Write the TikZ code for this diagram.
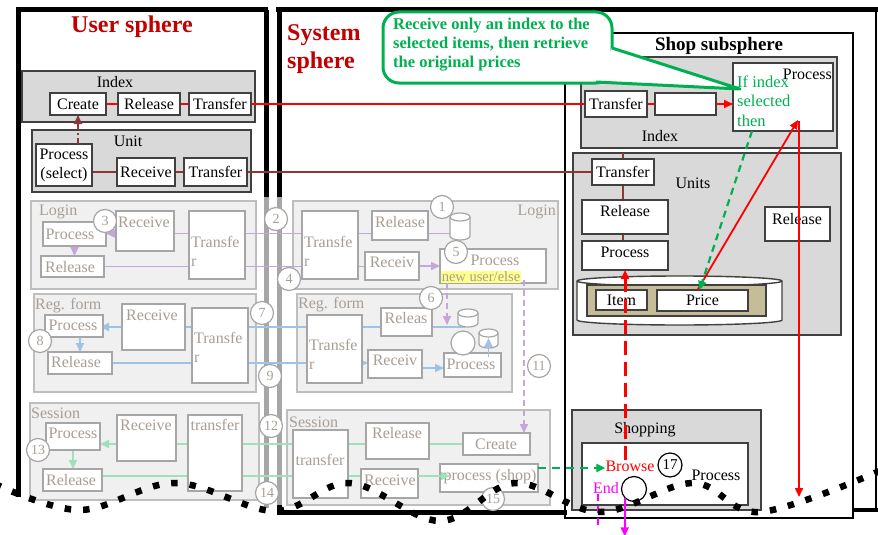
\documentclass[tikz,border=0pt]{standalone}
\usepackage{fontspec}
\setmainfont{Liberation Serif}
\usetikzlibrary{arrows.meta,calc}
\pgfdeclarelayer{bg}
\pgfdeclarelayer{ln}
\pgfsetlayers{bg,ln,main}
\definecolor{tred}{RGB}{192,0,0}
\definecolor{cgreen}{RGB}{0,176,80}
\definecolor{dred}{RGB}{140,56,56}
\definecolor{grpfill}{RGB}{217,217,217}
\definecolor{grpdraw}{RGB}{64,64,64}
\definecolor{ffill}{RGB}{240,240,240}
\definecolor{fgdraw}{RGB}{190,190,190}
\definecolor{fdraw}{RGB}{166,166,166}
\definecolor{ftext}{RGB}{168,158,148}
\definecolor{lpurple}{RGB}{196,166,218}
\definecolor{lblue}{RGB}{157,195,230}
\definecolor{lgreen}{RGB}{160,224,188}
\definecolor{khaki}{RGB}{196,189,151}
\definecolor{hl}{RGB}{255,255,140}
\definecolor{mag}{RGB}{255,0,255}
\tikzset{
 bse/.style={inner sep=0pt, outer sep=0pt, font=\fontsize{16}{19}\selectfont},
 mbox/.style={bse, draw=grpdraw, line width=1.4pt, fill=white},
 grp/.style={bse, draw=grpdraw, line width=1.6pt, fill=grpfill},
 fbx/.style={bse, draw=fdraw, line width=1.3pt, fill=white},
 fgrp/.style={bse, draw=fgdraw, line width=1.3pt, fill=ffill},
 mt/.style={inner sep=0pt, font=\fontsize{16}{19}\selectfont, text=black, align=center},
 ft/.style={inner sep=0pt, font=\fontsize{16}{19}\selectfont, text=ftext, align=left},
 num/.style={circle, draw=fdraw, fill=white, line width=1.2pt, minimum size=23pt, inner sep=0pt, font=\fontsize{14}{14}\selectfont, text=ftext},
 arr/.style={-{Triangle[length=9pt,width=8pt]}},
 rl/.style={draw=red, line width=1.8pt},
 dl/.style={draw=dred, line width=1.8pt},
 pl/.style={draw=lpurple, line width=1.8pt},
 bl/.style={draw=lblue, line width=1.8pt},
 gl/.style={draw=lgreen, line width=1.8pt},
}
\newcommand\bx[7][]{\node[#1,minimum width={(#5)-(#3)},minimum height={(#6)-(#4)}] (#2) at ({((#3)+(#5))/2},{((#4)+(#6))/2}) {#7};}
\newcommand\dbc[5]{%
 \node[bse, minimum width={(#4)-(#2)}, minimum height={(#5)-(#3)}] (#1) at ({((#2)+(#4))/2},{((#3)+(#5))/2}) {};
 \draw[draw=fdraw, line width=1.2pt, fill=white] ([yshift=-4pt]#1.north west) -- ([yshift=4pt]#1.south west) arc[start angle=180, end angle=360, x radius={((#4)-(#2))/2*1pt}, y radius=4pt] -- ([yshift=-4pt]#1.north east) arc[start angle=0, end angle=180, x radius={((#4)-(#2))/2*1pt}, y radius=4pt] -- cycle;
 \draw[draw=fdraw, line width=1.2pt] ([yshift=-4pt]#1.north west) arc[start angle=180, end angle=360, x radius={((#4)-(#2))/2*1pt}, y radius=4pt];
}
\begin{document}
\begin{tikzpicture}[x=1pt,y=-1pt]
\useasboundingbox (0,0) rectangle (878,535);

% ---------- frames and groups ----------
\begin{pgfonlayer}{bg}
\fill[white] (0,0) rectangle (878,535);
\draw[line width=5pt] (18,497) -- (18,10) -- (268,10);
\draw[line width=5pt] (266,10) -- (266,197);
\draw[line width=5pt, fdraw] (266,197) -- (266,508);
\draw[line width=5pt] (276,10) -- (878,10);
\draw[line width=5pt] (279,10) -- (279,197);
\draw[line width=5pt, fdraw] (279,197) -- (279,505);
\draw[line width=5pt] (279,505) -- (279,512) -- (567,512);
\draw[line width=1.5pt] (876,10) -- (876,510);
\draw[line width=4pt] (853,510) -- (878,510);
\draw[line width=2.5pt] (565,33) rectangle (853,518);

\bx[grp]{uIdx}{22}{71}{255}{122}{}
\bx[grp]{uUnit}{32}{130}{251}{192}{}
\bx[grp]{sIdx}{581}{57}{837}{148}{}
\bx[grp]{sUnits}{573}{153}{841}{335}{}
\bx[grp]{sShop}{572}{410}{761}{510}{}
\bx[fgrp]{uLogin}{31}{201}{256}{289}{}
\bx[fgrp]{sLogin}{293}{201}{558}{289}{}
\bx[fgrp]{uReg}{34}{294}{256}{392}{}
\bx[fgrp]{sReg}{297}{294}{512}{392}{}
\bx[fgrp]{uSes}{30}{403}{259}{500}{}
\bx[fgrp]{sSes}{287}{410}{550}{505}{}
\end{pgfonlayer}

% ---------- titles ----------
\node[font=\bfseries\fontsize{24}{28}\selectfont, text=tred, inner sep=0pt] (tUser) at (132,27) {User sphere};
\node[font=\bfseries\fontsize{24}{28}\selectfont, text=tred, align=left, anchor=west, inner sep=0pt] (tSys) at (287,49) {System\\sphere};
\node[font=\bfseries\fontsize{19}{22}\selectfont, inner sep=0pt] (tShop) at (719,46) {Shop subsphere};

% ---------- user Index / Unit ----------
\node[mt] (luIdx) at (115,82) {Index};
\bx[mbox]{uCreate}{50}{93}{106}{115}{Create}
\bx[mbox]{uRelease}{118}{93}{180}{115}{Release}
\bx[mbox]{uTransfer}{189}{93}{251}{115}{Transfer}
\node[mt] (luUnit) at (128,141) {Unit};
\bx[mbox, align=center]{uPS}{36}{144}{92}{186}{Process\\(select)}
\bx[mbox]{uRcv}{117}{158}{175}{186}{Receive}
\bx[mbox]{uTr2}{184}{158}{247}{186}{Transfer}

% ---------- shop ----------
\node[mt] (lsIdx) at (660,136) {Index};
\bx[mbox]{sTr}{585}{91}{647}{117}{Transfer}
\bx[mbox]{sEmp}{655}{93}{716}{115}{}
\bx[mbox]{sProc}{733}{63}{833}{131}{}
\node[mt, anchor=east] (lsProc) at (832,74) {Process};
\node[font=\fontsize{16.5}{19.5}\selectfont, text=cgreen, align=left, anchor=west, inner sep=0pt] (lIf) at (737,101) {If index\\selected\\then};
\node[mt] (lUnits) at (693,183) {Units};
\bx[mbox]{sUTr}{592}{159}{654}{185}{Transfer}
\bx[mbox]{sURel}{582}{200}{668}{234}{}
\node[mt] (lsURel) at (625,211) {Release};
\bx[mbox]{sUProc}{582}{241}{668}{270}{}
\node[mt] (lsUProc) at (625,252) {Process};
\bx[mbox]{sURel2}{765}{207}{830}{241}{}
\node[mt] (lsURel2) at (797,219) {Release};
\draw[draw=grpdraw, line width=1.4pt, fill=white] (577,281) -- (577,320) arc[start angle=180,end angle=360,x radius=102.5pt,y radius=5pt] -- (782,281) arc[start angle=0,end angle=180,x radius=102.5pt,y radius=5pt] -- cycle;
\draw[draw=grpdraw, line width=1.4pt] (577,281) arc[start angle=180,end angle=360,x radius=102.5pt,y radius=5pt];
\bx[mbox, fill=khaki]{sDBin}{587}{285}{766}{316}{}
\bx[mbox]{sItem}{596}{290}{647}{310}{Item}
\bx[mbox]{sPrice}{657}{290}{748}{311}{Price}
\node[mt] (lShop) at (645,430) {Shopping};
\bx[mbox]{sShIn}{582}{443}{748}{505}{}
\node[mt, text=red] (Browse) at (630,466) {Browse};
\node[circle, draw=black, fill=white, line width=1.2pt, minimum size=24pt, inner sep=0pt, font=\fontsize{15}{15}\selectfont] (n17) at (670,465) {17};
\node[mt] (lShProc) at (716,475) {Process};
\node[mt, text=mag] (End) at (606,488) {End};
\node[circle, draw=black, fill=white, line width=1.2pt, minimum size=25pt] (eCirc) at (634,489) {};

% ---------- faded: login ----------
\node[ft, anchor=west] (luLogin) at (39,212) {Login};
\bx[fbx]{uLP}{43}{222}{106}{246}{}
\node[ft] (luLP) at (70,234) {Process};
\bx[fbx]{uLR}{116}{211}{174}{251}{}
\node[ft] (luLR) at (144,222) {Receive};
\bx[fbx]{uLT}{189}{211}{245}{279}{}
\node[ft, anchor=west] (luLT) at (191,251) {Transfe\\r};
\bx[fbx]{uLRel}{41}{256}{104}{277}{}
\node[ft] (luLRel) at (70,267) {Release};

\node[ft, anchor=east] (lsLogin) at (556,212) {Login};
\bx[fbx]{sLT}{302}{211}{358}{279}{}
\node[ft, anchor=west] (lsLT) at (304,251) {Transfe\\r};
\bx[fbx]{sLRel}{372}{211}{428}{240}{}
\node[ft] (lsLRel) at (400,222) {Release};
\dbc{sLDB}{450}{213}{470}{240}
\bx[fbx]{sLRcv}{365}{252}{419}{280}{}
\node[ft] (lsLRcv) at (392,262) {Receiv};
\bx[fbx]{sLProc}{440}{249}{546}{283}{}
\node[ft] (lsLProc) at (495,260) {Process};
\node[ft, anchor=west, fill=hl, font=\fontsize{14.5}{16}\selectfont, inner sep=0.6pt] (lNew) at (441,277) {new user/else};

% ---------- faded: reg form ----------
\node[ft, anchor=west] (luReg) at (35,306) {Reg. form};
\bx[fbx]{uRP}{45}{315}{103}{337}{}
\node[ft] (luRP) at (73,325) {Process};
\bx[fbx]{uRR}{122}{304}{185}{350}{}
\node[ft] (luRR) at (152,315) {Receive};
\bx[fbx]{uRT}{192}{308}{248}{383}{}
\node[ft, anchor=west] (luRT) at (194,347) {Transfe\\r};
\bx[fbx]{uRRel}{48}{352}{112}{374}{}
\node[ft] (luRRel) at (76,362) {Release};

\node[ft, anchor=west] (lsReg) at (298,305) {Reg. form};
\bx[fbx]{sRT}{307}{315}{362}{383}{}
\node[ft, anchor=west] (lsRT) at (309,354) {Transfe\\r};
\bx[fbx]{sRRel}{381}{308}{432}{336}{}
\node[ft] (lsRRel) at (406,318) {Releas};
\bx[fbx]{sRRcv}{368}{350}{422}{378}{}
\node[ft] (lsRRcv) at (395,360) {Receiv};
\bx[fbx]{sRProc}{444}{353}{501}{377}{}
\node[ft] (lsRProc) at (471,364) {Process};
\node[circle, draw=fdraw, fill=white, line width=1.2pt, minimum size=24pt] (sRCirc) at (463,343) {};
\dbc{sRDB1}{458}{309}{478}{327}
\dbc{sRDB2}{479}{329}{498}{348}

% ---------- faded: session ----------
\node[ft, anchor=west] (luSes) at (31,413) {Session};
\bx[fbx]{uSP}{46}{423}{100}{450}{}
\node[ft] (luSP) at (73,433) {Process};
\bx[fbx]{uSR}{117}{415}{176}{461}{}
\node[ft] (luSR) at (146,425) {Receive};
\bx[fbx]{uST}{188}{415}{242}{491}{}
\node[ft] (luST) at (215,425) {transfer};
\bx[fbx]{uSRel}{43}{469}{102}{491}{}
\node[ft] (luSRel) at (71,480) {Release};

\node[ft, anchor=west] (lsSes) at (289,422) {Session};
\bx[fbx]{sST}{293}{430}{348}{498}{}
\node[ft] (lsST) at (320,460) {transfer};
\bx[fbx]{sSRel}{366}{423}{429}{459}{}
\node[ft] (lsSRel) at (397,433) {Release};
\bx[fbx]{sCreate}{463}{433}{530}{455}{}
\node[ft] (lsCreate) at (496,444) {Create};
\bx[fbx]{sSRcv}{361}{469}{418}{498}{}
\node[ft] (lsSRcv) at (390,480) {Receive};
\bx[fbx]{sSProc}{440}{464}{538}{492}{}
\node[ft] (lsSProc) at (490,477) {process (shop)};

% ---------- connectors behind boxes ----------
\begin{pgfonlayer}{ln}
\draw[rl] (uCreate.east) -- (uRelease.west);
\draw[rl] (uRelease.east) -- (uTransfer.west);
\draw[rl] (uTransfer.east) -- (uTransfer.east -| sTr.west);
\draw[rl] (sTr.east) -- (sEmp.west);
\draw[dl] (uRcv.west -| uPS.east) -- (uRcv.west);
\draw[dl] (uRcv.east) -- (uTr2.west);
\draw[dl] (uTr2.east) -- (uTr2.east -| sUTr.west);
\draw[dl] (sUTr.north |- sUnits.north) -- (sUTr.north);
\draw[dl] (sUTr.south) -- (sUTr.south |- sURel.north);
\draw[dl] (sUTr.south |- sURel.south) -- (sUTr.south |- sUProc.north);
% purple
\draw[pl, arr] ([yshift=-7pt]sLDB.west) -- ([yshift=-7pt]sLDB.west -| uLP.east);
\draw[pl, arr] (uLP.south) -- (uLP.south |- uLRel.north);
\draw[pl] (uLRel.east) -- (uLRel.east -| sLRcv.west);
\draw[pl, arr] (sLRcv.east) -- (sLRcv.east -| sLProc.west);
% blue
\draw[bl, arr] ([xshift=-3pt]sRDB1.south) -- ([xshift=-3pt]sRDB1.south -| uRP.east);
\draw[bl, arr] (uRP.south -| uRRel.north) -- (uRRel.north);
\draw[bl, arr] (uRRel.east) -- (uRRel.east -| sRRcv.west);
\draw[bl, arr] ([yshift=-4pt]sRRcv.east) -- ([yshift=-4pt]sRRcv.east -| sRProc.west);
% light green
\draw[gl, arr] (sCreate.west) -- (sCreate.west -| uSP.east);
\draw[gl, arr] (uSP.south) -- (uSP.south |- uSRel.north);
\draw[gl] ([yshift=4pt]uSRel.east) -- ([yshift=4pt]uSRel.east -| sSRcv.west);
\end{pgfonlayer}

% ---------- connectors on top ----------
\draw[dl, dash pattern=on 6pt off 3pt on 2pt off 3pt, arr] (uPS.north -| uCreate.south) -- (uCreate.south);
\draw[rl, arr] (sEmp.east) -- (sEmp.east -| sProc.west);
\draw[rl, arr] ([xshift=-5pt]sPrice.north) -- ([xshift=15pt,yshift=11pt]sProc.south);
\coordinate (rEnd) at (799,497);
\draw[rl, line width=1.5pt, arr] ([xshift=16pt,yshift=10pt]sProc.south) -- (rEnd);
\draw[cgreen, line width=2.2pt, dash pattern=on 7pt off 5pt, arr] ([xshift=-31pt]sProc.south) -- ([xshift=-3pt]sPrice.north);
\draw[red, line width=3pt, dash pattern=on 14pt off 7pt, arr] (Browse.north -| sUProc.south) -- (sUProc.south);
\draw[cgreen, line width=2.5pt, dash pattern=on 8pt off 6pt, arr] ([yshift=10pt]sSProc.east) -- ([yshift=10pt]sSProc.east -| Browse.west);
\draw[gl, arr] ([yshift=7.5pt]sSRcv.east) -- ([yshift=7.5pt,xshift=10pt]sSRcv.east -| sSProc.west);
\draw[bl, arr] ([yshift=-4pt]sRProc.north -| sRDB2.south) -- ([yshift=10pt]sRDB2.south);
\coordinate (p6) at (447,325);
\draw[pl, dash pattern=on 6pt off 4pt, arr] ([xshift=7pt]sLProc.south west) -- (p6);
\draw[pl, dash pattern=on 6pt off 4pt, arr] ([xshift=-22pt,yshift=3pt]sLProc.south east) -- ([xshift=-6pt]sCreate.north east);
\draw[mag, line width=2.5pt, dash pattern=on 7pt off 5pt] ([xshift=-8pt]End.south) -- ++(0,33);
\draw[mag, line width=2.2pt, arr] (eCirc.south west) -- ++(0,38);

% ---------- numbers ----------
\node[num] (n1) at (442,207) {1};
\node[num] (n2) at (276,219) {2};
\node[num] (n3) at (105,221) {3};
\node[num] (n4) at (289,279) {4};
\node[num] (n5) at (456,252) {5};
\node[num] (n6) at (431,298) {6};
\node[num] (n7) at (262,313) {7};
\node[num] (n8) at (40,341) {8};
\node[num] (n9) at (270,376) {9};
\node[num] (n11) at (539,366) {11};
\node[num] (n12) at (271,426) {12};
\node[num] (n13) at (38,450) {13};
\node[num] (n14) at (267,493) {14};
\node[num] (n15) at (493,499) {15};

% ---------- callout ----------
\draw[cgreen, line width=3pt, fill=white, rounded corners=16pt] (383,12) rectangle (612,83);
\fill[white] (612,48) -- (740,89) -- (596,83) -- cycle;
\draw[cgreen, line width=3pt, line join=round] (612,48) -- (740,89) -- (596,82);
\node[font=\bfseries\fontsize{16.5}{19}\selectfont, text=cgreen, align=left, anchor=west, inner sep=0pt] (tCall) at (393,45) {Receive only an index to the\\selected items, then retrieve\\the original prices};

% ---------- tear line ----------
\draw[line width=6.5pt, dash pattern=on 6.5pt off 12pt] plot[smooth, tension=0.6] coordinates {(-5,484) (80,510) (175,483) (275,511) (350,483) (440,521) (515,483) (600,512) (693,483) (760,512) (882,470)};
\end{tikzpicture}
\end{document}
